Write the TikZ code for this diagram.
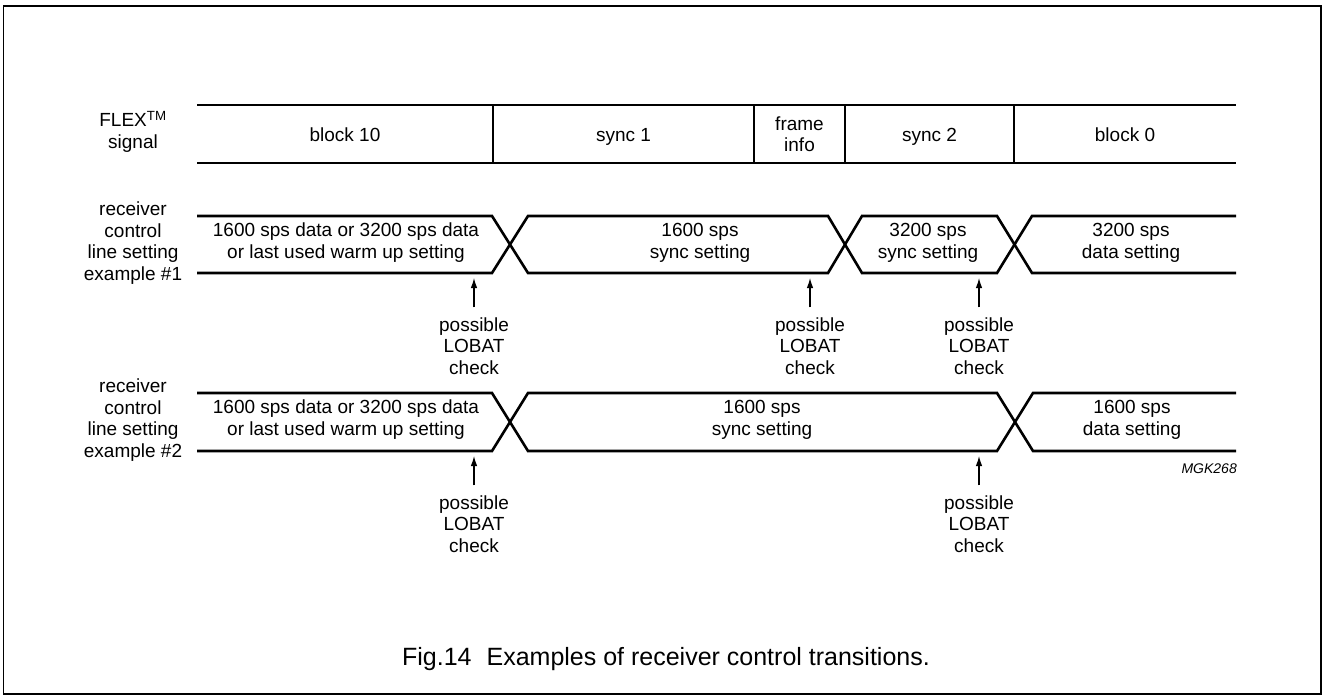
\documentclass[tikz,border=0pt]{standalone}
\usepackage{fontspec}
\setmainfont{Liberation Sans}
\usetikzlibrary{arrows.meta}
\begin{document}
\begin{tikzpicture}[x=1pt,y=-1pt,
  sig/.style={line width=2.6pt, line join=miter},
  divider/.style={line width=2.4pt},
  lbl/.style={align=center, inner sep=0pt, font=\fontsize{19}{21.5}\selectfont},
  arr/.style={line width=1.2pt, -{Latex[length=10pt,width=6.5pt]}, shorten <=10pt},
]
\useasboundingbox (0,0) rectangle (1327,699);
\draw[line width=1.8pt] (3.5,6) rectangle (1321,694);

% FLEX signal row
\draw[sig] (197,105) -- (1236,105);
\draw[sig] (197,163) -- (1236,163);
\foreach \x in {493,754,845,1014} \draw[divider] (\x,105) -- (\x,163);

\node[lbl] (flex) at (133,132) {FLEX\textsuperscript{TM}\\signal};
\node[lbl, anchor=base] (b10) at (345,141.5) {block 10};
\node[lbl, anchor=base] (s1) at (623.5,141.5) {sync 1};
\node[lbl] (fi) at (799.5,134) {frame\\info};
\node[lbl, anchor=base] (s2) at (929.5,141.5) {sync 2};
\node[lbl, anchor=base] (b0) at (1125,141.5) {block 0};

% example 1
\draw[sig] (197,216) -- (492,216) -- (528,273) -- (828,273) -- (862,216) -- (997,216) -- (1032,273) -- (1236,273);
\draw[sig] (197,273) -- (492,273) -- (528,216) -- (828,216) -- (862,273) -- (997,273) -- (1032,216) -- (1236,216);

\node[lbl] (r1) at (133,243) {receiver\\control\\line setting\\example \#1};
\node[lbl] (e1a) at (346,242.6) {1600 sps data or 3200 sps data\\or last used warm up setting};
\node[lbl] (e1b) at (700,242.6) {1600 sps\\sync setting};
\node[lbl] (e1c) at (928,242.6) {3200 sps\\sync setting};
\node[lbl] (e1d) at (1131,242.6) {3200 sps\\data setting};

\node[lbl] (p1) at (474,346) {possible\\LOBAT\\check};
\node[lbl] (p2) at (810,346) {possible\\LOBAT\\check};
\node[lbl] (p3) at (979,346) {possible\\LOBAT\\check};
\coordinate (t1) at (474,278);
\coordinate (t2) at (810,278);
\coordinate (t3) at (979,278);
\draw[arr] (p1.north) -- (t1);
\draw[arr] (p2.north) -- (t2);
\draw[arr] (p3.north) -- (t3);

% example 2
\draw[sig] (197,393) -- (492,393) -- (528,451) -- (997,451) -- (1033,393) -- (1236,393);
\draw[sig] (197,451) -- (492,451) -- (528,393) -- (997,393) -- (1033,451) -- (1236,451);

\node[lbl] (r2) at (133,420) {receiver\\control\\line setting\\example \#2};
\node[lbl] (e2a) at (346,419.6) {1600 sps data or 3200 sps data\\or last used warm up setting};
\node[lbl] (e2b) at (762,419.6) {1600 sps\\sync setting};
\node[lbl] (e2c) at (1132,419.6) {1600 sps\\data setting};

\node[lbl] (p4) at (474,524) {possible\\LOBAT\\check};
\node[lbl] (p5) at (979,524) {possible\\LOBAT\\check};
\coordinate (t4) at (474,456);
\coordinate (t5) at (979,456);
\draw[arr] (p4.north) -- (t4);
\draw[arr] (p5.north) -- (t5);

\node[anchor=base east, inner sep=0pt, font=\fontsize{14}{16}\selectfont\itshape] (mgk) at (1237,473) {MGK268};

\node[anchor=base, inner sep=0pt, font=\fontsize{25}{30}\selectfont] (cap) at (666,665) {Fig.14\hspace{15pt}Examples of receiver control transitions.};
\end{tikzpicture}
\end{document}
